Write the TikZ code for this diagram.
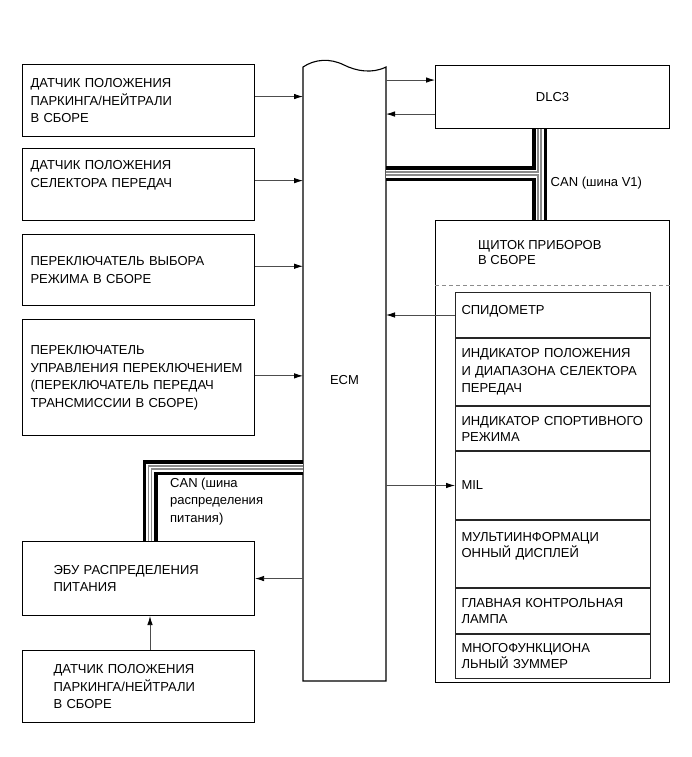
\documentclass[tikz,border=0pt]{standalone}
\usepackage{fontspec}
\setmainfont{Liberation Sans}
\usetikzlibrary{arrows.meta, positioning, calc}
\definecolor{cWire}{HTML}{4D4D4D}
\definecolor{cDash}{HTML}{8C8C8C}
\definecolor{cBusIn}{HTML}{8A8A8A}

\begin{document}
\begin{tikzpicture}[
    x=1pt, y=-1pt,
    font=\fontsize{13}{17.5}\selectfont,
    box/.style={draw, line width=1.1pt, align=left, text width=216pt,
                inner xsep=8pt, inner ysep=0pt, anchor=north west},
    ecubox/.style={box, text width=170pt, inner xsep=31pt},
    frame/.style={draw, line width=1.1pt, minimum width=234pt,
                  inner sep=0pt, anchor=north west},
    row/.style={draw=black!85, line width=1pt, align=left, text width=183pt,
                inner xsep=6pt, inner ysep=0pt,
                font=\fontsize{13}{16}\selectfont},
    arr/.style={-{Latex[length=9pt, width=5.5pt, color=black]},
                line width=0.8pt, draw=cWire},
    lbl/.style={align=left, inner sep=0pt},
    dashsep/.style={dash pattern=on 4pt off 3pt, draw=cDash, line width=0.8pt},
]
\useasboundingbox (0,0) rectangle (691,757);

% ================================================================
%  LEFT: sensors and switches
% ================================================================

\node[box, minimum height=72pt] (s1) at (22,64)
    {ДАТЧИК ПОЛОЖЕНИЯ\\ПАРКИНГА/НЕЙТРАЛИ\\В СБОРЕ};
\node[box, minimum height=72pt, below=11pt of s1] (s2)
    {ДАТЧИК ПОЛОЖЕНИЯ\\СЕЛЕКТОРА ПЕРЕДАЧ\\[4pt]\mbox{}};
\node[box, minimum height=71pt, below=13pt of s2] (s3)
    {ПЕРЕКЛЮЧАТЕЛЬ ВЫБОРА\\РЕЖИМА В СБОРЕ};
\node[box, minimum height=116pt, below=13pt of s3] (s4)
    {ПЕРЕКЛЮЧАТЕЛЬ\\УПРАВЛЕНИЯ~ПЕРЕКЛЮЧЕНИЕМ\\(ПЕРЕКЛЮЧАТЕЛЬ ПЕРЕДАЧ\\ТРАНСМИССИИ В СБОРЕ)};

\node[ecubox, minimum height=74pt] (ebu) at (22,541)
    {ЭБУ РАСПРЕДЕЛЕНИЯ\\ПИТАНИЯ};
\node[ecubox, minimum height=72pt, below=34pt of ebu] (s5)
    {ДАТЧИК ПОЛОЖЕНИЯ\\ПАРКИНГА/НЕЙТРАЛИ\\В СБОРЕ};

% ================================================================
%  CENTRE: ECM (wavy top edge)
% ================================================================

\node[minimum width=83pt, minimum height=614pt, inner sep=0pt, outer sep=0pt]
    (ecm) at (344.5,374) {};
\draw[line width=1.1pt] (ecm.south west) -- (ecm.north west)
    .. controls ($(ecm.north west)+(12,-8)$) and ($(ecm.north west)+(27,-9)$)
    .. ($(ecm.north west)+(41,-2)$)
    .. controls ($(ecm.north west)+(53,4)$) and ($(ecm.north west)+(69,7)$)
    .. (ecm.north east) -- (ecm.south east) -- cycle;
\node[lbl] (ecmlbl) at ([yshift=-6pt]ecm.center) {ECM};

% ================================================================
%  RIGHT: DLC3 and combination meter
% ================================================================

\node[frame, minimum height=63pt] (dlc) at (435,65) {DLC3};

\node[frame, minimum height=462pt] (cluster) at (435,220) {};
\node[lbl, anchor=north west, font=\fontsize{13}{15}\selectfont] (cltitle)
    at ([xshift=43pt,yshift=-20pt]cluster.north west) {ЩИТОК ПРИБОРОВ\\В СБОРЕ};

\node[row, minimum height=45pt, anchor=north west] (r1) at (455,292)
    {СПИДОМЕТР\\[-5pt]\mbox{}};
\node[row, minimum height=67pt, below=0pt of r1,
      font=\fontsize{13}{17.5}\selectfont] (r2)
    {ИНДИКАТОР ПОЛОЖЕНИЯ\\И~ДИАПАЗОНА~СЕЛЕКТОРА\\ПЕРЕДАЧ};
\node[row, minimum height=44pt, below=0pt of r2] (r3)
    {ИНДИКАТОР~СПОРТИВНОГО\\РЕЖИМА};
\node[row, minimum height=68pt, below=0pt of r3] (r4) {MIL};
\node[row, minimum height=67pt, below=0pt of r4] (r5)
    {МУЛЬТИИНФОРМАЦИ\\ОННЫЙ ДИСПЛЕЙ\\[2pt]\mbox{}};
\node[row, minimum height=45pt, below=0pt of r5] (r6)
    {ГЛАВНАЯ КОНТРОЛЬНАЯ\\ЛАМПА};
\node[row, minimum height=44pt, below=0pt of r6] (r7)
    {МНОГОФУНКЦИОНА\\ЛЬНЫЙ ЗУММЕР};

\draw[dashsep] ([yshift=7pt]r1.north -| cluster.west)
    -- ([yshift=7pt]r1.north -| cluster.east);

% ================================================================
%  CAN buses (layered so the T-junction stays open)
% ================================================================

\coordinate (canV) at (539.5,173.5);
\coordinate (canL) at (150,467.5);
\foreach \w/\clr in {15pt/black, 8pt/white, 4.5pt/cBusIn, 1.5pt/white}{
  \draw[line width=\w, draw=\clr, line join=miter]
      (dlc.south -| canV) -- (cluster.north -| canV)
      (ecm.east |- canV) -- (canV)
      (ecm.west |- canL) -- (canL) -- (ebu.north -| canL);
}
\node[lbl, anchor=west] (canVlbl) at ([xshift=11pt,yshift=-10pt]canV)
    {CAN (шина V1)};
\node[lbl, anchor=north west] (canLlbl) at ([xshift=20pt,yshift=-10pt]canL)
    {CAN (шина\\распределения\\питания)};

% ================================================================
%  Signal lines
% ================================================================

\draw[arr] ([yshift=4pt]s1.east) -- ([yshift=4pt]s1.east -| ecm.west);
\draw[arr] ([yshift=4pt]s2.east) -- ([yshift=4pt]s2.east -| ecm.west);
\draw[arr] ([yshift=4pt]s3.east) -- ([yshift=4pt]s3.east -| ecm.west);
\draw[arr] ([yshift=2pt]s4.east) -- ([yshift=2pt]s4.east -| ecm.west);

\draw[arr] ([yshift=17pt]dlc.west -| ecm.east) -- ([yshift=17pt]dlc.west);
\draw[arr] ([yshift=-17pt]dlc.west) -- ([yshift=-17pt]dlc.west -| ecm.east);

\draw[arr] (r1.west) -- (r1.west -| ecm.east);
\draw[arr] (r4.west -| ecm.east) -- (r4.west);

\draw[arr] (ebu.east -| ecm.west) -- (ebu.east);
\draw[arr] (s5.north -| canL) -- (ebu.south -| canL);

\end{tikzpicture}
\end{document}
